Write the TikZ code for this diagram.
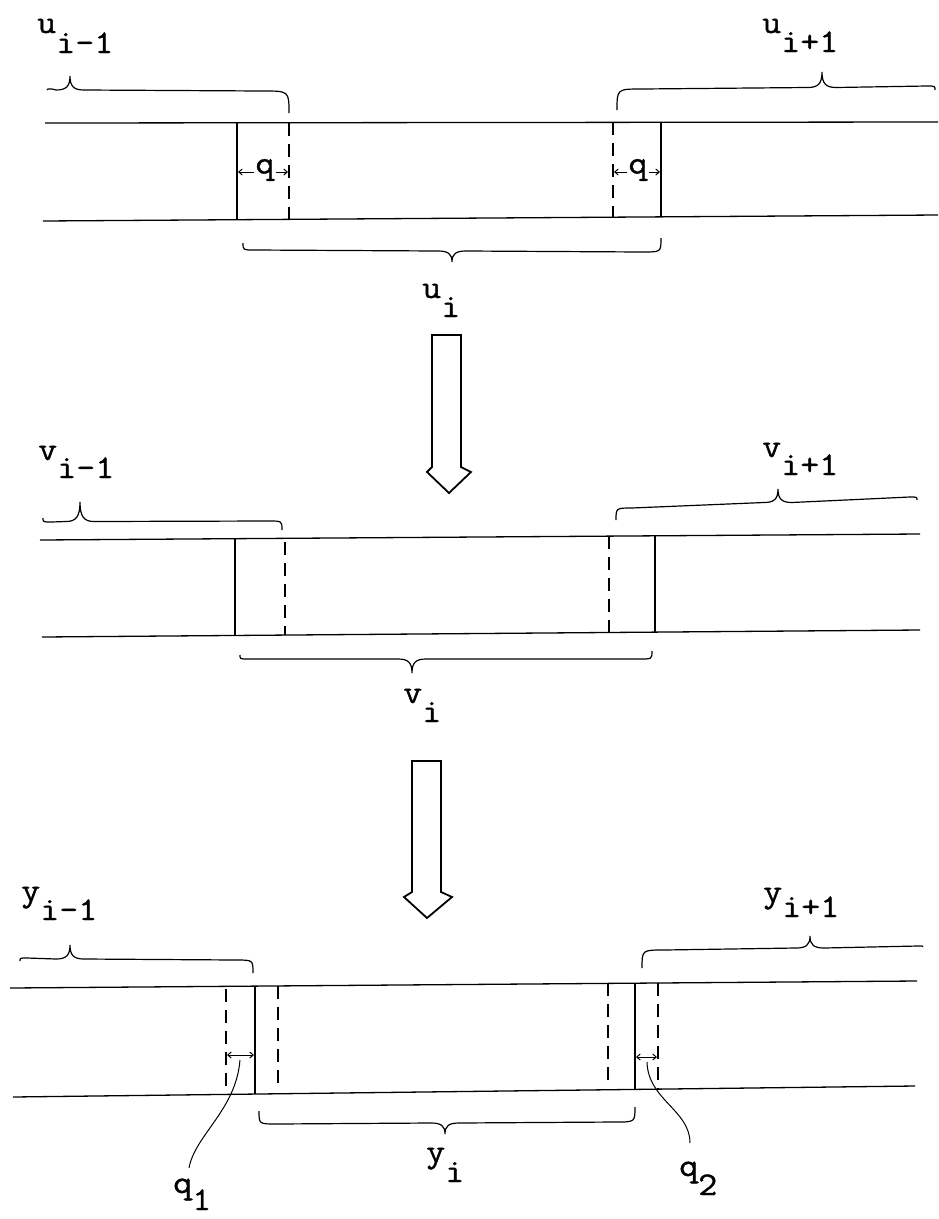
\documentclass[tikz,border=0pt]{standalone}
\usepackage{fontspec}
\usetikzlibrary{arrows.meta}
\newfontfamily\twfont{Latin Modern Mono}[FakeStretch=1.12, FakeBold=1]
\newcommand\ttlab{\twfont\fontsize{33}{36}\selectfont}
\newcommand\sublab[3]{#1\raisebox{-#3pt}{#2}}
% xl yl bl xt yt xr yr br
\newcommand\hbrace[8]{%
  \pgfmathsetmacro\bt{(#3+#8)/2}%
  \pgfmathsetmacro\rl{abs(#2-#3)+4}%
  \pgfmathsetmacro\rr{abs(#7-#8)+4}%
  \pgfmathsetmacro\kt{0.25*(#5-\bt)}%
  \draw[brace] (#1,#2) .. controls (#1,#3) .. ({#1+\rl},#3)
    -- ({#4-14},\bt) .. controls ({#4-4},\bt) and (#4,{\bt+\kt}) .. (#4,#5)
    .. controls (#4,{\bt+\kt}) and ({#4+4},\bt) .. ({#4+14},\bt)
    -- ({#6-\rr},#8) .. controls (#6,#8) .. (#6,#7);%
}
\begin{document}
\begin{tikzpicture}[x=1pt,y=-1pt,
  declare function={
    ta(\x)=123-(\x-45)/893;
    ba(\x)=221-6*(\x-43)/895;
    tb(\x)=540-6*(\x-40)/880;
    bb(\x)=637-7*(\x-42)/878;
    tc(\x)=988-7*(\x-10)/907;
    bc(\x)=1097-11*(\x-13)/902;},
  rail/.style={line width=1.3pt},
  wall/.style={line width=1.7pt},
  ghost/.style={line width=1.6pt, dash pattern=on 13pt off 8pt},
  brace/.style={line width=1.2pt},
  lab/.style={font=\ttlab, inner sep=0pt, anchor=base west},
  qlab/.style={font=\ttlab, inner sep=0pt},
  tick/.style={line width=1pt, -{Straight Barb[length=3.5pt,width=6pt]}},
  dtick/.style={line width=1pt, {Straight Barb[length=3.5pt,width=6pt]}-{Straight Barb[length=3.5pt,width=6pt]}},
  bigarrow/.style={line width=1.8pt, line join=miter, fill=white},
  lead/.style={line width=1pt}]
\useasboundingbox[fill=white] (0,0) rectangle (938,1219);

% ---------------- panel 1 ----------------
\draw[rail] (45,{ta(45)}) -- (938,{ta(938)});
\draw[rail] (43,{ba(43)}) -- (938,{ba(938)});
\draw[wall] (237,{ta(237)}) -- (237,{ba(237)});
\draw[ghost] (289,{ta(289)}) -- (289,{ba(289)});
\draw[ghost] (613,{ta(613)}) -- (613,{ba(613)});
\draw[wall] (661,{ta(661)}) -- (661,{ba(661)});
\node[qlab] (qa) at (265,170) {q};
\draw[tick] (qa.west) ++(-1,2) -- (238,172);
\draw[tick] (qa.east) ++(1,2) -- (288,172);
\node[qlab] (qb) at (638,170) {q};
\draw[tick] (qb.west) ++(-1,2) -- (614,172);
\draw[tick] (qb.east) ++(1,2) -- (660,172);
\hbrace{47}{90}{89}{70}{76}{289}{113}{91}
\hbrace{617}{110}{89}{822}{72}{935}{90}{86}
\hbrace{243}{243}{250}{452}{262}{661}{238}{252}
\node[lab] (ua) at (37,33) {\sublab{u}{i-1}{20}};
\node[lab] (ub) at (762,33) {\sublab{u}{i+1}{19}};
\node[lab] (uc) at (422,298) {\sublab{u}{i}{19}};

% arrow 1
\draw[bigarrow] (432,335) -- (461,335) -- (461,467) -- (471,472) -- (449,493)
  -- (427,472) -- (432,467) -- cycle;

% ---------------- panel 2 ----------------
\draw[rail] (40,{tb(40)}) -- (920,{tb(920)});
\draw[rail] (42,{bb(42)}) -- (920,{bb(920)});
\draw[wall] (235,{tb(235)}) -- (235,{bb(235)});
\draw[ghost] (285,{tb(285)+4}) -- (285,{bb(285)});
\draw[ghost] (609,{tb(609)}) -- (609,{bb(609)});
\draw[wall] (655,{tb(655)}) -- (655,{bb(655)});
\hbrace{43}{518}{522}{80}{502}{282}{530}{521}
\hbrace{616}{520}{508}{778}{489}{917}{500}{497}
\hbrace{240}{655}{659}{412}{673}{652}{651}{659}
\node[lab] (va) at (38,460) {\sublab{v}{i-1}{18}};
\node[lab] (vb) at (762,457) {\sublab{v}{i+1}{18}};
\node[lab] (vc) at (403,703) {\sublab{v}{i}{19}};

% arrow 2
\draw[bigarrow] (412,761) -- (441,761) -- (441,892) -- (452,897) -- (427,918)
  -- (404,897) -- (412,892) -- cycle;

% ---------------- panel 3 ----------------
\draw[rail] (10,{tc(10)}) -- (917,{tc(917)});
\draw[rail] (13,{bc(13)}) -- (915,{bc(915)});
\draw[ghost] (226,{tc(226)+3}) -- (226,{bc(226)});
\draw[wall] (255,{tc(255)}) -- (255,{bc(255)});
\draw[ghost] (278,{tc(278)}) -- (278,1088);
\draw[ghost] (608,{tc(608)}) -- (608,1087);
\draw[wall] (635,{tc(635)}) -- (635,{bc(635)});
\draw[ghost] (658,{tc(658)}) -- (658,{bc(658)});
\coordinate (la) at (227,1055);
\coordinate (lb) at (254,1055);
\draw[dtick] (la) -- (lb);
\coordinate (ra) at (636,1057);
\coordinate (rb) at (657,1057);
\draw[dtick] (ra) -- (rb);
\hbrace{20}{961}{958}{70}{945}{253}{973}{960}
\hbrace{642}{968}{950}{810}{936}{923}{947}{946}
\hbrace{259}{1111}{1124}{445}{1134}{635}{1107}{1122}
\node[lab] (ya) at (21,901) {\sublab{y}{i-1}{19}};
\node[lab] (yb) at (763,902) {\sublab{y}{i+1}{15}};
\node[lab] (yc) at (426,1162) {\sublab{y}{i}{20}};
\node[lab] (q1) at (173,1193) {\sublab{q}{1}{17}};
\node[lab] (q2) at (679,1176) {\sublab{q}{2}{19}};
\coordinate (s1) at (240,1060);
\coordinate (e1) at (189,1168);
\draw[lead] (s1) .. controls (236,1110) and (195,1135) .. (e1);
\coordinate (s2) at (647,1062);
\coordinate (e2) at (690,1143);
\draw[lead] (s2) .. controls (648,1100) and (690,1110) .. (e2);
\end{tikzpicture}
\end{document}
